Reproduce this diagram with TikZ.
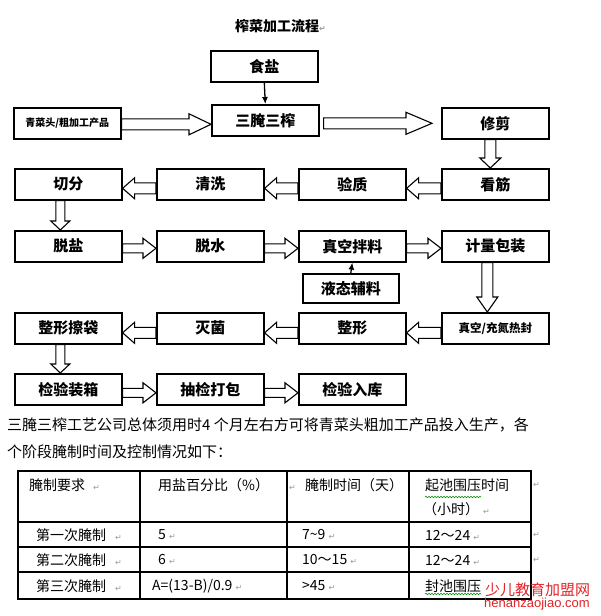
\documentclass[tikz,border=0pt]{standalone}
\usepackage{fontspec}
\setmainfont{Noto Sans CJK SC}
\newfontfamily\djv{DejaVu Sans}
\newfontfamily\libsans{Liberation Sans}
\usetikzlibrary{calc,arrows.meta,decorations.pathmorphing}
\pgfdeclarelayer{bg}
\pgfdeclarelayer{paper}
\pgfsetlayers{paper,bg,main}
\newcommand\retmark{{\djv\fontsize{8}{9}\selectfont\color{gray!80}↵}}
\tikzset{
  box/.style={draw, line width=1.6pt, minimum width=107pt, minimum height=31pt,
    inner sep=0pt, anchor=north west, font=\fontsize{15}{18}\selectfont\bfseries},
  harrow/.style={draw, fill=white, line width=1.1pt, line join=miter},
  thinarrow/.style={line width=1.3pt, -{Latex[length=7pt,width=6pt]}},
  cell/.style={anchor=west, inner sep=0pt, font=\fontsize{14}{16}\selectfont},
  para/.style={anchor=west, inner sep=0pt, font=\fontsize{15}{18}\selectfont},
  tline/.style={line width=1.4pt},
}
% hollow arrows: tail, tip, head length, head half width, shaft half width
\newcommand\rarr[5]{\path[harrow] let \p1=#1, \p2=#2 in
  (\x1,\y1+#5) -- (\x2-#3,\y1+#5) -- (\x2-#3,\y1+#4) -- (\x2,\y1)
  -- (\x2-#3,\y1-#4) -- (\x2-#3,\y1-#5) -- (\x1,\y1-#5) -- cycle;}
\newcommand\larr[5]{\path[harrow] let \p1=#1, \p2=#2 in
  (\x1,\y1+#5) -- (\x2+#3,\y1+#5) -- (\x2+#3,\y1+#4) -- (\x2,\y1)
  -- (\x2+#3,\y1-#4) -- (\x2+#3,\y1-#5) -- (\x1,\y1-#5) -- cycle;}
\newcommand\darr[5]{\path[harrow] let \p1=#1, \p2=#2 in
  (\x1-#5,\y1) -- (\x1-#5,\y2+#3) -- (\x1-#4,\y2+#3) -- (\x1,\y2)
  -- (\x1+#4,\y2+#3) -- (\x1+#5,\y2+#3) -- (\x1+#5,\y1) -- cycle;}
\begin{document}
\begin{tikzpicture}[x=1pt,y=-1pt]
\begin{pgfonlayer}{paper}
\fill[white] (0,0) rectangle (600,616);
\end{pgfonlayer}
\useasboundingbox (0,0) rectangle (600,616);

% title
\node[anchor=west, inner sep=0pt, font=\fontsize{14}{16}\selectfont\bfseries] (title) at (235,26) {榨菜加工流程\retmark};

% boxes
\node[box] (salt) at (210,50) {食盐};
\node[box] (sansan) at (211,104) {三腌三榨};
\node[box, font=\fontsize{10}{12}\selectfont\bfseries] (qing) at (13,107) {青菜头/粗加工产品};
\node[box] (xiujian) at (441,107) {修剪};

\node[box] (qiefen) at (14,168) {切分};
\node[box] (qingxi) at (156,168) {清洗};
\node[box] (yanzhi) at (298,168) {验质};
\node[box] (kanjin) at (441,168) {看筋};

\node[box] (tuoyan) at (14,230) {脱盐};
\node[box] (tuoshui) at (156,230) {脱水};
\node[box] (banliao) at (298,230) {真空拌料};
\node[box] (baozhuang) at (441,230) {计量包装};

\node[box, minimum width=96pt, minimum height=29pt] (yetai) at (302,273) {液态辅料};

\node[box] (cadai) at (14,312) {整形擦袋};
\node[box] (miejun) at (156,312) {灭菌};
\node[box] (zhengxing) at (298,312) {整形};
\node[box, font=\fontsize{11.5}{13}\selectfont\bfseries] (refeng) at (441,312) {真空/充氮热封};

\node[box] (zhuangxiang) at (14,373) {检验装箱};
\node[box] (dabao) at (156,373) {抽检打包};
\node[box] (ruku) at (298,373) {检验入库};

% hollow arrows
\begin{pgfonlayer}{bg}
\rarr{([yshift=-1pt]qing.east)}{(sansan.west)}{22pt}{10.5pt}{5.5pt}
\rarr{([xshift=4pt]sansan.east |- xiujian.west)}{([xshift=-9pt]xiujian.west)}{26pt}{11pt}{5.5pt}
\darr{([xshift=-5pt]xiujian.south)}{(kanjin.north)}{10pt}{10.5pt}{5.5pt}

\larr{([yshift=-4pt]kanjin.west)}{(yanzhi.east)}{12pt}{10.5pt}{5.5pt}
\larr{([yshift=-4pt]yanzhi.west)}{(qingxi.east)}{12pt}{10.5pt}{5.5pt}
\larr{([yshift=-4pt]qingxi.west)}{(qiefen.east)}{12pt}{10.5pt}{5.5pt}
\darr{([xshift=-8pt]qiefen.south)}{(tuoyan.north)}{9pt}{9.5pt}{4.5pt}

\rarr{([yshift=-2pt]tuoyan.east)}{(tuoshui.west)}{13pt}{10pt}{4.5pt}
\rarr{([yshift=-2pt]tuoshui.east)}{(banliao.west)}{13pt}{10pt}{4.5pt}
\rarr{([yshift=-2pt]banliao.east)}{(baozhuang.west)}{13pt}{10pt}{4.5pt}
\darr{([xshift=-8pt]baozhuang.south)}{(refeng.north)}{15pt}{10.5pt}{5.5pt}

\larr{([yshift=-4.5pt]refeng.west)}{(zhengxing.east)}{12pt}{10.5pt}{5.5pt}
\larr{([yshift=-4.5pt]zhengxing.west)}{(miejun.east)}{12pt}{10.5pt}{5.5pt}
\larr{([yshift=-4.5pt]miejun.west)}{(cadai.east)}{12pt}{10.5pt}{5.5pt}
\darr{([xshift=-8pt]cadai.south)}{(zhuangxiang.north)}{9pt}{9.5pt}{4.5pt}

\rarr{([yshift=-3.5pt]zhuangxiang.east)}{(dabao.west)}{13pt}{10pt}{4.5pt}
\rarr{([yshift=-3.5pt]dabao.east)}{(ruku.west)}{13pt}{10pt}{4.5pt}
\end{pgfonlayer}

% thin arrows
\draw[thinarrow] (salt.south) -- (sansan.north);
\draw[thinarrow] (yetai.north) -- (banliao.south);

% paragraph
\node[para] (p1) at (7,425) {三腌三榨工艺公司总体须用时4 个月左右方可将青菜头粗加工产品投入生产，各};
\node[para] (p2) at (7,452) {个阶段腌制时间及控制情况如下：};

% table
\draw[tline] (18,471) rectangle (531,599);
\draw[tline] (140,471) -- (140,599);
\draw[tline] (287,471) -- (287,599);
\draw[tline] (409,471) -- (409,599);
\draw[tline] (18,522) -- (531,522);
\draw[tline] (18,547) -- (531,547);
\draw[tline] (18,572) -- (531,572);

\node[cell] (h1) at (29,485) {腌制要求\hspace{8pt}\retmark};
\node[cell] (h2) at (158,485) {用盐百分比（\%）\hspace{20pt}\retmark};
\node[cell] (h3) at (305,485) {腌制时间（天）};
\node[cell] (h4) at (425,485) {起池围压时间};
\node[cell] (h4b) at (423,509) {（小时）\hspace{4pt}\retmark};
\node[cell] (h5) at (533,485) {\retmark};

\node[cell] (a1) at (36,535) {第一次腌制\hspace{9pt}\retmark};
\node[cell] (a2) at (158,535) {5 \retmark};
\node[cell] (a3) at (302,535) {7\textasciitilde9 \retmark};
\node[cell] (a4) at (425,535) {12～24 \retmark};
\node[cell] (a5) at (533,535) {\retmark};

\node[cell] (b1) at (36,560) {第二次腌制\hspace{9pt}\retmark};
\node[cell] (b2) at (158,560) {6 \retmark};
\node[cell] (b3) at (302,560) {10～15 \retmark};
\node[cell] (b4) at (425,560) {12～24 \retmark};
\node[cell] (b5) at (533,560) {\retmark};

\node[cell] (c1) at (36,586) {第三次腌制\hspace{9pt}\retmark};
\node[cell] (c2) at (152,586) {A=(13-B)/0.9 \retmark};
\node[cell] (c3) at (302,586) {>45 \retmark};
\node[cell] (c4) at (425,586) {封池围压};

% spell-check underlines
\draw[green!55!black, line width=0.6pt, decorate, decoration={snake, amplitude=0.7pt, segment length=3pt}] (425,497) -- (481,497);
\draw[green!55!black, line width=0.6pt, decorate, decoration={snake, amplitude=0.7pt, segment length=3pt}] (425,594) -- (481,594);

% watermark
\node[anchor=west, inner sep=0pt, text={rgb,255:red,226;green,35;blue,40}, font=\fontsize{15}{17}\selectfont] (wm1) at (485,590) {少儿教育加盟网};
\node[anchor=west, inner sep=0pt, text={rgb,255:red,226;green,35;blue,40}, font=\libsans\fontsize{13}{15}\selectfont] (wm2) at (484,604) {henanzaojiao.com};
\end{tikzpicture}
\end{document}
